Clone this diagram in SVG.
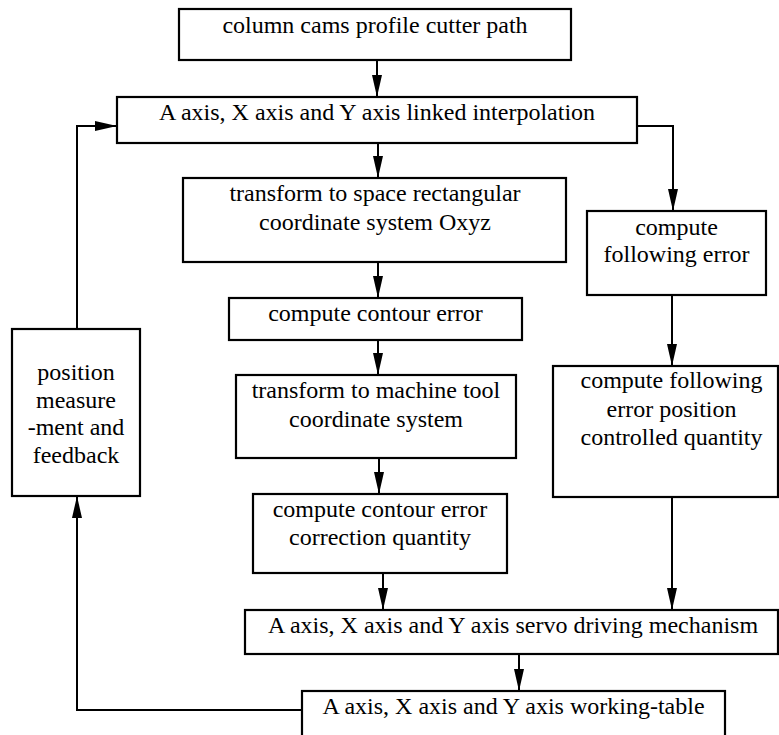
<svg xmlns="http://www.w3.org/2000/svg" width="779" height="735" viewBox="0 0 779 735">
  <defs>
    <marker id="arr" viewBox="0 0 22 10" refX="22" refY="5" markerWidth="22" markerHeight="10" markerUnits="userSpaceOnUse" orient="auto">
      <path d="M0,0 L22,5 L0,10 Z" fill="#000"/>
    </marker>
    <style>
      rect { fill: #fff; stroke: #000; stroke-width: 2.2; }
      .t { font-family: 'Liberation Serif', serif; font-size: 24px; fill: #000; text-anchor: middle; }
      .c { fill: none; stroke: #000; stroke-width: 2; }
      .a { marker-end: url(#arr); }
    </style>
  </defs>
  <rect x="0" y="0" width="779" height="735" style="fill:#fff;stroke:none"/>

  <g id="connectors">
    <path class="c a" d="M377,60 V97"/>
    <path class="c a" d="M378,143 V178"/>
    <path class="c a" d="M378,262 V298"/>
    <path class="c a" d="M378,340 V375"/>
    <path class="c a" d="M379,458 V494"/>
    <path class="c a" d="M383,573 V610"/>
    <path class="c a" d="M519,654 V691"/>
    <path class="c a" d="M637,126 H673 V211"/>
    <path class="c a" d="M672,295 V366"/>
    <path class="c a" d="M672,497 V610"/>
    <path class="c a" d="M302,710 H77 V496"/>
    <path class="c a" d="M77,329 V126 H117"/>
  </g>

  <g id="n-path">
    <rect x="179" y="9" width="392" height="51"/>
    <text class="t" x="375" y="33">column cams profile cutter path</text>
  </g>
  <g id="n-interp">
    <rect x="117" y="97" width="520" height="46"/>
    <text class="t" x="377" y="120">A axis, X axis and Y axis linked interpolation</text>
  </g>
  <g id="n-oxyz">
    <rect x="183" y="178" width="383" height="84"/>
    <text class="t" x="375" y="201">transform to space rectangular</text>
    <text class="t" x="375" y="230">coordinate system Oxyz</text>
  </g>
  <g id="n-contour">
    <rect x="229" y="298" width="293" height="42"/>
    <text class="t" x="375.5" y="321">compute contour error</text>
  </g>
  <g id="n-machine">
    <rect x="236" y="375" width="280" height="83"/>
    <text class="t" x="376" y="398">transform to machine tool</text>
    <text class="t" x="376" y="427">coordinate system</text>
  </g>
  <g id="n-correction">
    <rect x="253" y="494" width="254" height="79"/>
    <text class="t" x="380" y="517">compute contour error</text>
    <text class="t" x="380" y="545">correction quantity</text>
  </g>
  <g id="n-follow">
    <rect x="587" y="211" width="179" height="84"/>
    <text class="t" x="676.5" y="235">compute</text>
    <text class="t" x="676.5" y="262">following error</text>
  </g>
  <g id="n-followpos">
    <rect x="553" y="366" width="225" height="131"/>
    <text class="t" x="671.5" y="388">compute following</text>
    <text class="t" x="671.5" y="417">error position</text>
    <text class="t" x="671.5" y="445">controlled quantity</text>
  </g>
  <g id="n-feedback">
    <rect x="12" y="329" width="128" height="167"/>
    <text class="t" x="76" y="380">position</text>
    <text class="t" x="76" y="408">measure</text>
    <text class="t" x="76" y="435">-ment and</text>
    <text class="t" x="76" y="463">feedback</text>
  </g>
  <g id="n-servo">
    <rect x="245" y="610" width="533" height="44"/>
    <text class="t" x="513" y="633">A axis, X axis and Y axis servo driving mechanism</text>
  </g>
  <g id="n-table">
    <rect x="302" y="691" width="423" height="60"/>
    <text class="t" x="513.5" y="714">A axis, X axis and Y axis working-table</text>
  </g>
</svg>
